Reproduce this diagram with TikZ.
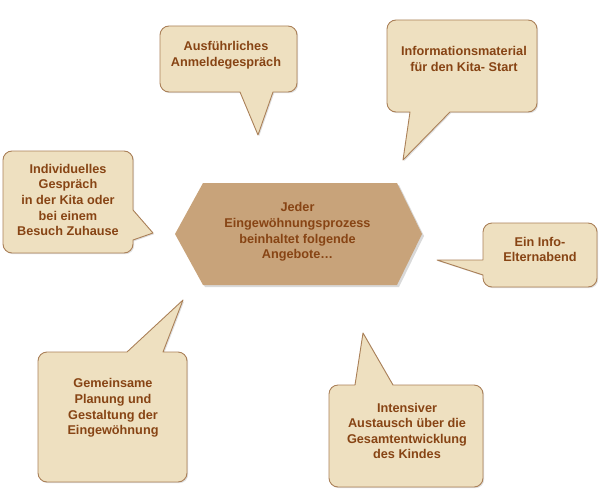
\documentclass[tikz,border=0pt]{standalone}
\usepackage{fontspec}
\setmainfont{Liberation Sans}
\usetikzlibrary{shadows}
\definecolor{parch}{RGB}{238,224,192}
\definecolor{parchline}{RGB}{170,128,88}
\definecolor{hexfill}{RGB}{200,163,122}
\definecolor{txtbrown}{RGB}{135,68,20}
\tikzset{
  bubble/.style={fill=parch, draw=parchline, line width=0.9pt, line join=round,
    drop shadow={shadow xshift=1.2pt, shadow yshift=-1.2pt, opacity=0.25}},
  hexa/.style={fill=hexfill, draw=none,
    drop shadow={shadow xshift=2pt, shadow yshift=-2pt, opacity=0.3}},
  lbl/.style={align=center, text=txtbrown, inner sep=0pt,
    font=\fontsize{12.7}{15.6}\selectfont\bfseries}
}
\begin{document}
\begin{tikzpicture}[x=1pt,y=-1pt]
\useasboundingbox (0,0) rectangle (604,503);
\def\r{9}
% Callout 1 (pointer bottom)
\path[bubble] (169,26) -- (288,26) arc[start angle=-90,end angle=0,radius=\r] -- (297,83)
  arc[start angle=0,end angle=90,radius=\r] -- (273,92) -- (258,135) -- (240,92) -- (169,92)
  arc[start angle=90,end angle=180,radius=\r] -- (160,35) arc[start angle=180,end angle=270,radius=\r] -- cycle;
% Callout 2 (pointer bottom)
\path[bubble] (396,20) -- (528,20) arc[start angle=-90,end angle=0,radius=\r] -- (537,103)
  arc[start angle=0,end angle=90,radius=\r] -- (450,112) -- (403,160) -- (410,112) -- (396,112)
  arc[start angle=90,end angle=180,radius=\r] -- (387,29) arc[start angle=180,end angle=270,radius=\r] -- cycle;
% Callout 3 (pointer right)
\path[bubble] (12,151) -- (124,151) arc[start angle=-90,end angle=0,radius=\r] -- (133,210) -- (153,233) -- (133,240) -- (133,244)
  arc[start angle=0,end angle=90,radius=\r] -- (12,253)
  arc[start angle=90,end angle=180,radius=\r] -- (3,160) arc[start angle=180,end angle=270,radius=\r] -- cycle;
% Callout 5 (pointer left)
\path[bubble] (492,223) -- (588,223) arc[start angle=-90,end angle=0,radius=\r] -- (597,278)
  arc[start angle=0,end angle=90,radius=\r] -- (492,287)
  arc[start angle=90,end angle=180,radius=\r] -- (483,275) -- (437,260) -- (483,260) -- (483,232)
  arc[start angle=180,end angle=270,radius=\r] -- cycle;
% Callout 6 (pointer top)
\path[bubble] (47,352) -- (127,352) -- (183,300) -- (163,352) -- (178,352) arc[start angle=-90,end angle=0,radius=\r] -- (187,473)
  arc[start angle=0,end angle=90,radius=\r] -- (47,482)
  arc[start angle=90,end angle=180,radius=\r] -- (38,361) arc[start angle=180,end angle=270,radius=\r] -- cycle;
% Callout 7 (pointer top)
\path[bubble] (338,385) -- (355,385) -- (363,333) -- (393,385) -- (474,385) arc[start angle=-90,end angle=0,radius=\r] -- (483,478)
  arc[start angle=0,end angle=90,radius=\r] -- (338,487)
  arc[start angle=90,end angle=180,radius=\r] -- (329,394) arc[start angle=180,end angle=270,radius=\r] -- cycle;
% central hexagon
\path[hexa] (175,234) -- (203,183) -- (397,183) -- (422,234) -- (397,285) -- (203,285) -- cycle;
% texts
\node[lbl] (t1) at (226,55) {Ausführliches\\Anmeldegespräch};
\node[lbl] (t2) at (464,59) {Informationsmaterial\\für den Kita- Start};
\node[lbl] (t3) at (68,200) {Individuelles\\Gespräch\\in der Kita oder\\bei einem\\Besuch Zuhause};
\node[lbl] (c) at (297.5,232) {Jeder\\Eingewöhnungsprozess\\beinhaltet folgende\\Angebote…};
\node[lbl] (t5) at (540,249.5) {Ein Info-\\Elternabend};
\node[lbl] (t6) at (113,408) {Gemeinsame\\Planung und\\Gestaltung der\\Eingewöhnung};
\node[lbl] (t7) at (407,431) {Intensiver\\Austausch über die\\Gesamtentwicklung\\des Kindes};
\end{tikzpicture}
\end{document}
